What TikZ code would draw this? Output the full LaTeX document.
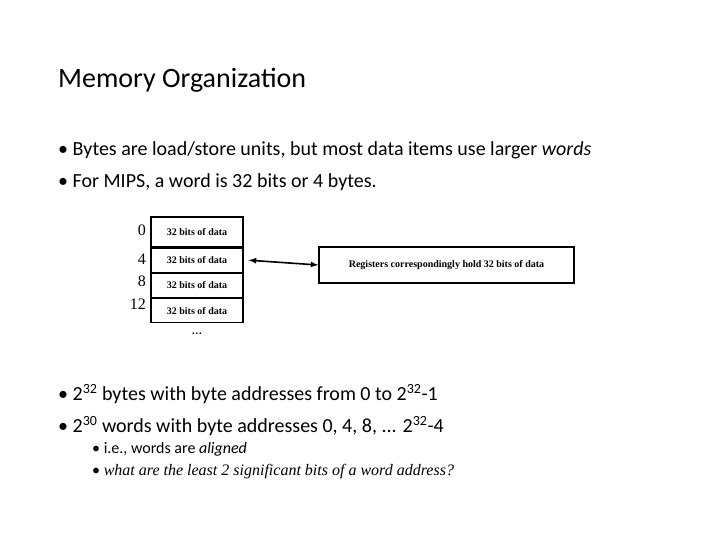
\documentclass[tikz,border=0pt]{standalone}
\usepackage{fontspec}
\setmainfont{Carlito}
\newfontfamily\serifb{Liberation Serif}
\usetikzlibrary{positioning}
\tikzset{
  cell/.style = {rectangle, draw=black, line width=1.2pt, minimum width=92pt, minimum height=24pt, inner sep=0pt, font=\serifb\bfseries\fontsize{10}{12}\selectfont},
  addr/.style = {anchor=east, inner sep=0pt, font=\serifb\fontsize{16}{18}\selectfont},
  regbox/.style = {rectangle, draw=black, line width=1.2pt, minimum width=255pt, minimum height=36pt, inner sep=0pt, font=\serifb\bfseries\fontsize{10}{12}\selectfont},
  bullet/.style = {anchor=west, inner sep=0pt, font=\fontsize{20}{24}\selectfont},
  subbullet/.style = {anchor=west, inner sep=0pt, font=\fontsize{16}{19}\selectfont},
  dblarrow/.style = {line width=1.6pt, <->, >=latex}
}
\begin{document}
\begin{tikzpicture}[x=1pt, y=-1pt]
\useasboundingbox (0,0) rectangle (720,540);

\node (title) [anchor=west, inner sep=0pt, font=\fontsize{28}{32}\selectfont] at (58,80) {Memory Organization};

\node (b1) [bullet] at (58,150) {\textbullet\ Bytes are load/store units, but most data items use larger \textit{words}};
\node (b2) [bullet] at (58,182) {\textbullet\ For MIPS, a word is 32 bits or 4 bytes.};

% memory words
\node (w0) [cell, minimum height=30pt, text depth=-10pt] at (197,232) {32 bits of data};
\node (w4) [cell, below=0pt of w0] {32 bits of data};
\node (w8) [cell, below=0pt of w4] {32 bits of data};
\node (w12) [cell, below=0pt of w8] {32 bits of data};
\node (dots) [below=6pt of w12, font=\fontsize{14}{16}\selectfont] {\dots};

\node (a0) [addr] at (146,230) {0};
\node (a4) [addr] at (146,259) {4};
\node (a8) [addr] at (146,281) {8};
\node (a12) [addr] at (146,304) {12};

\node (reg) [regbox] at (446.5,265) {Registers correspondingly hold 32 bits of data};

\draw [dblarrow] ([xshift=5pt]w4.east) -- (reg.west);

\node (b3) [bullet] at (58,394) {\textbullet\ 2\textsuperscript{32} bytes with byte addresses from 0 to 2\textsuperscript{32}-1};
\node (b4) [bullet] at (58,426) {\textbullet\ 2\textsuperscript{30} words with byte addresses 0, 4, 8, ... 2\textsuperscript{32}-4};
\node (s1) [subbullet] at (92,449) {\textbullet\ i.e., words are \textit{aligned}};
\node (s2) [subbullet] at (92,472) {\textbullet\ \serifb\itshape what are the least 2 significant bits of a word address?};
\end{tikzpicture}
\end{document}
